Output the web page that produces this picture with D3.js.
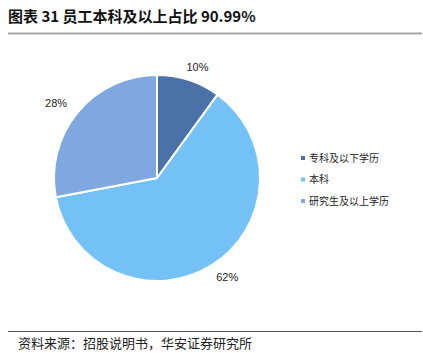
<!DOCTYPE html>
<html>
<head>
<meta charset="utf-8">
<script src="https://cdn.jsdelivr.net/npm/d3@7"></script>
<style>
    body { margin: 0; background: #fff; }
    svg { display: block; }
</style>
</head>
<body>
<svg id="chart"></svg>
<script>

const categories = ["专科及以下学历", "本科", "研究生及以上学历"];
const values = [10, 62, 28];
const labels = ["10%", "62%", "28%"];
const colors = ["#4a72a8", "#74c2f5", "#7fa7e0"];

const width = 423, height = 353;

const svg = d3.select("#chart")
    .attr("width", width)
    .attr("height", height);

// Title ////////////////////////////////////

svg.append("text")
    .attr("x", 8)
    .attr("y", 22)
    .attr("font-family", "'Noto Sans CJK SC', sans-serif")
    .attr("font-size", 15)
    .attr("font-weight", "bold")
    .attr("fill", "#111")
    .text("图表 31 员工本科及以上占比 90.99%");

svg.append("line")
    .attr("x1", 8).attr("x2", 422)
    .attr("y1", 33.5).attr("y2", 33.5)
    .attr("stroke", "#a6a6a6")
    .attr("stroke-width", 2);

// Pie //////////////////////////////////////

const cx = 157, cy = 178, r = 103;

const pie = d3.pie().sort(null).value(d => d);
const arc = d3.arc().innerRadius(0).outerRadius(r);

const g = svg.append("g").attr("transform", `translate(${cx}, ${cy})`);

const arcs = pie(values);

g.selectAll("path")
    .data(arcs)
    .join("path")
    .attr("d", arc)
    .attr("fill", (d, i) => colors[i])
    .attr("stroke", "#fff")
    .attr("stroke-width", 2);

// labels sit just outside the rim, pushed sideways by half their width
const labelR = r + 14;

g.selectAll(".lbl")
    .data(arcs)
    .join("text")
    .attr("class", "lbl")
    .attr("transform", d => {
        const a = (d.startAngle + d.endAngle) / 2;
        const x = Math.sin(a) * labelR + Math.sin(a) * 14;
        const y = -Math.cos(a) * labelR;
        return `translate(${x}, ${y})`;
    })
    .attr("text-anchor", "middle")
    .attr("dy", "0.35em")
    .attr("font-family", "Arial, 'Liberation Sans', sans-serif")
    .attr("font-size", 11)
    .attr("fill", "#222")
    .text((d, i) => labels[i]);

// Legend ///////////////////////////////////

const legend = svg.append("g").attr("transform", "translate(301, 158)");

const item = legend.selectAll("g")
    .data(categories)
    .join("g")
    .attr("transform", (d, i) => `translate(0, ${i * 21.5})`);

item.append("rect")
    .attr("x", 0).attr("y", -2)
    .attr("width", 4).attr("height", 4)
    .attr("fill", (d, i) => colors[i]);

item.append("text")
    .attr("x", 8)
    .attr("dy", "0.35em")
    .attr("font-family", "'Noto Sans CJK SC', sans-serif")
    .attr("font-size", 10)
    .attr("fill", "#222")
    .text(d => d);

// Footer ///////////////////////////////////

svg.append("line")
    .attr("x1", 8).attr("x2", 422)
    .attr("y1", 331.5).attr("y2", 331.5)
    .attr("stroke", "#555")
    .attr("stroke-width", 1);

svg.append("text")
    .attr("x", 18)
    .attr("y", 348)
    .attr("font-family", "'Noto Sans CJK SC', sans-serif")
    .attr("font-size", 13)
    .attr("fill", "#222")
    .text("资料来源：招股说明书，华安证券研究所");

</script>
</body>
</html>
